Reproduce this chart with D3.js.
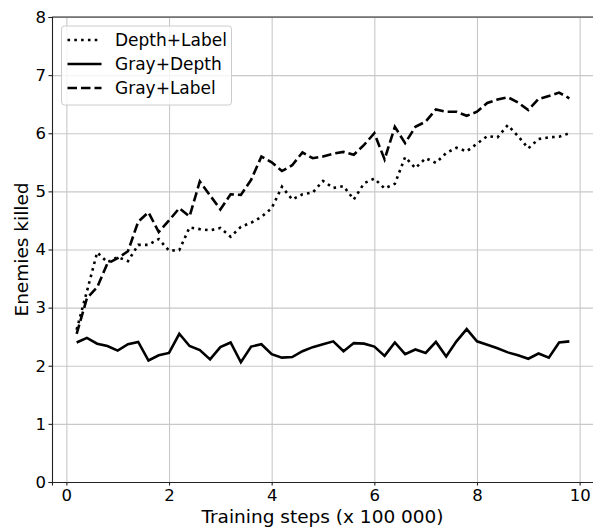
<!DOCTYPE html>
<html>
<head>
<meta charset="utf-8">
<script src="https://cdn.jsdelivr.net/npm/d3@7"></script>
<style>
  body { margin: 0; background: #fff; }
  text { font-family: "DejaVu Sans", sans-serif; fill: #000; }
  .grid line { stroke: #c8c8c8; stroke-width: 1.1; }
  .grid path { display: none; }
</style>
</head>
<body>
<svg id="chart" width="593" height="530"></svg>
<script>
// Training steps (x 100 000)
const steps = [0.2, 0.4, 0.6, 0.8, 1.0, 1.2, 1.4, 1.6, 1.8, 2.0, 2.2, 2.4, 2.6, 2.8, 3.0, 3.2, 3.4, 3.6, 3.8, 4.0,
  4.2, 4.4, 4.6, 4.8, 5.0, 5.2, 5.4, 5.6, 5.8, 6.0, 6.2, 6.4, 6.6, 6.8, 7.0, 7.2, 7.4, 7.6, 7.8, 8.0,
  8.2, 8.4, 8.6, 8.8, 9.0, 9.2, 9.4, 9.6, 9.8];

const depthLabel = [2.62, 3.28, 3.95, 3.78, 3.87, 3.80, 4.08, 4.08, 4.18, 3.98, 3.99, 4.38, 4.35, 4.33, 4.37, 4.22, 4.39, 4.46, 4.56, 4.71,
  5.08, 4.86, 4.95, 4.98, 5.18, 5.06, 5.09, 4.86, 5.14, 5.22, 5.05, 5.13, 5.59, 5.40, 5.57, 5.49, 5.66, 5.75, 5.69, 5.82,
  5.95, 5.93, 6.14, 5.95, 5.74, 5.90, 5.93, 5.94, 6.00];

const grayDepth = [2.40, 2.48, 2.38, 2.34, 2.26, 2.37, 2.41, 2.09, 2.18, 2.22, 2.55, 2.34, 2.27, 2.11, 2.32, 2.40, 2.06, 2.33, 2.37, 2.20,
  2.14, 2.15, 2.25, 2.32, 2.37, 2.42, 2.25, 2.39, 2.38, 2.33, 2.17, 2.40, 2.20, 2.28, 2.22, 2.41, 2.16, 2.42, 2.63, 2.42,
  2.36, 2.30, 2.23, 2.18, 2.12, 2.21, 2.14, 2.40, 2.42];

const grayLabel = [2.55, 3.16, 3.35, 3.76, 3.85, 3.97, 4.48, 4.64, 4.30, 4.50, 4.71, 4.57, 5.17, 4.93, 4.69, 4.95, 4.94, 5.20, 5.60, 5.50,
  5.35, 5.45, 5.67, 5.57, 5.60, 5.65, 5.68, 5.63, 5.80, 6.00, 5.55, 6.11, 5.83, 6.11, 6.20, 6.41, 6.37, 6.37, 6.30, 6.37,
  6.52, 6.58, 6.62, 6.53, 6.40, 6.59, 6.64, 6.70, 6.60];

const seriesNames = ["Depth+Label", "Gray+Depth", "Gray+Label"];
const seriesDash = ["2.6,4.2", null, "9.5,4"];
const xTicks = [0, 2, 4, 6, 8, 10];
const yTicks = [0, 1, 2, 3, 4, 5, 6, 7, 8];

const margin = { top: 17, right: 0, bottom: 48, left: 52 };
const width = 593 - margin.left - margin.right + 1;
const height = 530 - margin.top - margin.bottom;

const svg = d3.select("#chart")
  .append("g")
  .attr("transform", `translate(${margin.left},${margin.top})`);

const x = d3.scaleLinear().domain([-0.28, 10.28]).range([0, width]);
const y = d3.scaleLinear().domain([0, 8]).range([height, 0]);

// grid
svg.append("g").attr("class", "grid")
  .attr("transform", `translate(0,${height})`)
  .call(d3.axisBottom(x).tickValues(xTicks).tickSize(-height).tickFormat(""));
svg.append("g").attr("class", "grid")
  .call(d3.axisLeft(y).tickValues(yTicks).tickSize(-width).tickFormat(""));

// lines
const allSeries = [depthLabel, grayDepth, grayLabel];
const line = d3.line().x((d, i) => x(steps[i])).y(d => y(d));

allSeries.forEach((vals, k) => {
  svg.append("path")
    .datum(vals)
    .attr("fill", "none")
    .attr("stroke", "#000")
    .attr("stroke-width", 2.6)
    .attr("stroke-linejoin", "miter")
    .attr("stroke-dasharray", seriesDash[k])
    .attr("d", line);
});

// axes
const gx = svg.append("g")
  .attr("transform", `translate(0,${height})`)
  .call(d3.axisBottom(x).tickValues(xTicks).tickSize(3.5).tickPadding(3.5).tickFormat(d3.format("d")));
const gy = svg.append("g")
  .call(d3.axisLeft(y).tickValues(yTicks).tickSize(3.5).tickPadding(2.5).tickFormat(d3.format("d")));

[gx, gy].forEach(g => {
  g.select(".domain").attr("stroke", "#222").attr("stroke-width", 1.1);
  g.selectAll(".tick line").attr("stroke", "#222").attr("stroke-width", 1.1);
  g.selectAll(".tick text").attr("font-size", 16.5).attr("font-family", "DejaVu Sans").attr("fill", "#000");
});

// top spine
svg.append("line")
  .attr("x1", 0).attr("x2", width).attr("y1", 0).attr("y2", 0)
  .attr("stroke", "#222").attr("stroke-width", 1.1);

// axis labels
svg.append("text")
  .attr("text-anchor", "middle")
  .attr("x", (593 - margin.left) / 2)
  .attr("y", height + 41)
  .attr("font-size", 18.5)
  .text("Training steps (x 100 000)");

svg.append("text")
  .attr("text-anchor", "middle")
  .attr("transform", "rotate(-90)")
  .attr("x", -height / 2)
  .attr("y", -margin.left + 28)
  .attr("font-size", 18.5)
  .text("Enemies killed");

// legend
const legend = svg.append("g").attr("transform", `translate(${61.5 - margin.left},${26 - margin.top})`);
legend.append("rect")
  .attr("width", 170).attr("height", 79)
  .attr("rx", 3)
  .attr("fill", "#fff").attr("fill-opacity", 0.8)
  .attr("stroke", "#ccc").attr("stroke-width", 1);

seriesNames.forEach((name, k) => {
  const row = legend.append("g").attr("transform", `translate(0,${14 + k * 24})`);
  row.append("line")
    .attr("x1", 6).attr("x2", 40)
    .attr("stroke", "#000").attr("stroke-width", 2.6)
    .attr("stroke-dasharray", seriesDash[k]);
  row.append("text")
    .attr("x", 53.5).attr("dy", "0.35em")
    .attr("font-size", 17)
    .text(name);
});
</script>
</body>
</html>
